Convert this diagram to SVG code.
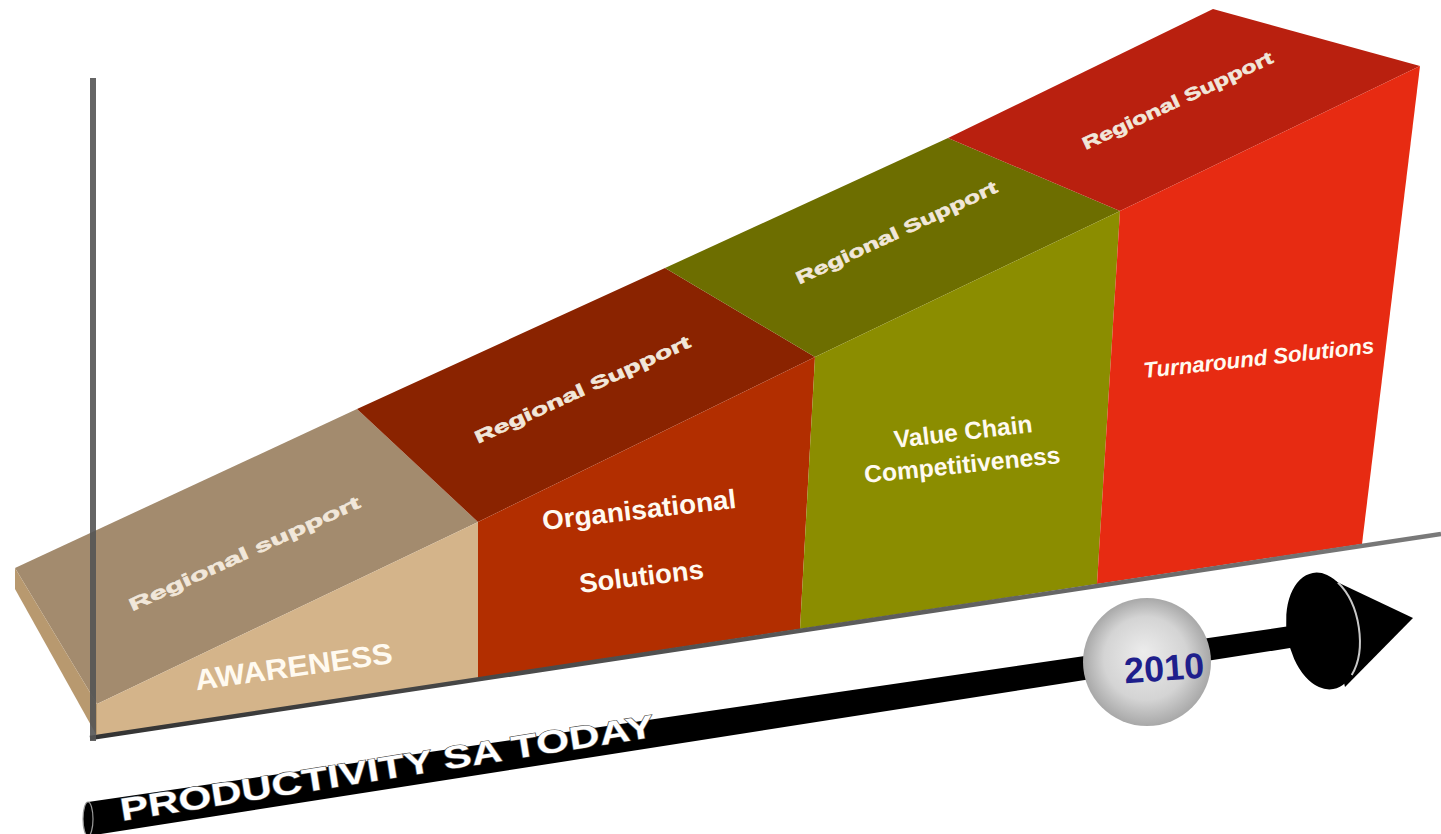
<svg xmlns="http://www.w3.org/2000/svg" width="1441" height="834" viewBox="0 0 1441 834">
  <defs>
    <style>
      text { font-family: "Liberation Sans", Arial, sans-serif; font-weight: bold; }
      .top-label { font-size: 17.5px; fill: #f1e7da; stroke: #f1e7da; stroke-width: 0.6px; }
      .face-label { fill: #fffaf0; }
      .timeline-label { font-size: 32px; fill: #ffffff; stroke: #4a4a4a; stroke-width: 1.2px; paint-order: stroke; }
      .year { font-size: 36px; fill: #1f1f8c; }
    </style>
    <linearGradient id="baseLine" x1="0" y1="0" x2="1" y2="0">
      <stop offset="0" stop-color="#333333"/>
      <stop offset="1" stop-color="#7a7a7a"/>
    </linearGradient>
    <radialGradient id="ballShade" cx="0.5" cy="0.5" r="0.5" fx="0.47" fy="0.42">
      <stop offset="0" stop-color="#ececec"/>
      <stop offset="0.65" stop-color="#d4d4d4"/>
      <stop offset="1" stop-color="#a8a8a8"/>
    </radialGradient>
  </defs>

  <rect width="1441" height="834" fill="#ffffff"/>

  <!-- Step 1: awareness -->
  <g id="block-awareness">
    <polygon points="15,568 357,409 478,522 97,704" fill="#a38b6e"/>
    <polygon points="15,568 97,704 97,736 15,589" fill="#b8996f"/>
    <polygon points="97,704 478,522 478,678 97,736" fill="#d4b48a"/>
    <text class="top-label" transform="translate(247,559) rotate(-24.5)" text-anchor="middle" textLength="252" lengthAdjust="spacingAndGlyphs">Regional support</text>
    <text class="face-label" font-size="29" transform="translate(295,676.5) rotate(-7.9)" text-anchor="middle" textLength="199" lengthAdjust="spacingAndGlyphs">AWARENESS</text>
  </g>

  <!-- Step 2: organisational solutions -->
  <g id="block-organisational">
    <polygon points="357,409 665,268 815,357 478,522" fill="#8a2300"/>
    <polygon points="478,522 815,357 800,629 478,678" fill="#b22e00"/>
    <text class="top-label" transform="translate(585,395) rotate(-24.5)" text-anchor="middle" textLength="235" lengthAdjust="spacingAndGlyphs">Regional Support</text>
    <text class="face-label" font-size="27" transform="translate(640,519) rotate(-6.5)" text-anchor="middle" textLength="195" lengthAdjust="spacingAndGlyphs">Organisational</text>
    <text class="face-label" font-size="27" transform="translate(642.5,585.5) rotate(-6.8)" text-anchor="middle" textLength="125" lengthAdjust="spacingAndGlyphs">Solutions</text>
  </g>

  <!-- Step 3: value chain competitiveness -->
  <g id="block-value-chain">
    <polygon points="665,268 948,138 1120,211 815,357" fill="#6d6e00"/>
    <polygon points="815,357 1120,211 1097,584 800,629" fill="#8b8d00"/>
    <text class="top-label" transform="translate(899,238) rotate(-25)" text-anchor="middle" textLength="220" lengthAdjust="spacingAndGlyphs">Regional Support</text>
    <text class="face-label" font-size="24.5" transform="translate(964,440) rotate(-6.6)" text-anchor="middle" textLength="139" lengthAdjust="spacingAndGlyphs">Value Chain</text>
    <text class="face-label" font-size="24.5" transform="translate(963,473) rotate(-5.8)" text-anchor="middle" textLength="197" lengthAdjust="spacingAndGlyphs">Competitiveness</text>
  </g>

  <!-- Step 4: turnaround solutions -->
  <g id="block-turnaround">
    <polygon points="948,138 1213,9 1420,66 1120,211" fill="#b9200f"/>
    <polygon points="1120,211 1420,66 1362,544 1097,584" fill="#e72b12"/>
    <text class="top-label" transform="translate(1180,106) rotate(-25)" text-anchor="middle" textLength="208" lengthAdjust="spacingAndGlyphs">Regional Support</text>
    <text class="face-label" font-size="22" font-style="italic" transform="translate(1259.5,365.5) rotate(-6.2)" text-anchor="middle" textLength="232" lengthAdjust="spacingAndGlyphs">Turnaround Solutions</text>
  </g>

  <!-- Chart axes -->
  <g id="axes">
    <line x1="90" y1="738" x2="1441" y2="534" stroke="url(#baseLine)" stroke-width="4.5"/>
    <line x1="93" y1="78" x2="93" y2="741" stroke="#555555" stroke-width="6" opacity="0.9"/>
  </g>

  <!-- Timeline arrow with year marker -->
  <g id="timeline">
    <polygon points="88,802 1290,626 1290,648 88,836" fill="#000000"/>
    <ellipse cx="88" cy="819" rx="5" ry="17" fill="#000000" stroke="#9a9a9a" stroke-width="1.2"/>
    <text class="timeline-label" transform="translate(122,821) rotate(-9)" textLength="540" lengthAdjust="spacingAndGlyphs">PRODUCTIVITY SA TODAY</text>
    <path d="M1318,573 L1413,618 L1345,687 Z" fill="#000000"/>
    <ellipse cx="1323" cy="631" rx="36" ry="59" transform="rotate(-10 1323 631)" fill="#000000"/>
    <path d="M1337.9,582.5 A36,59 -10 0,1 1351.7,675" fill="none" stroke="#c8c8c8" stroke-width="2"/>
  </g>

  <g id="marker-2010">
    <circle cx="1147" cy="662" r="64" fill="url(#ballShade)"/>
    <text class="year" transform="translate(1165,680.5) rotate(-4)" text-anchor="middle" textLength="80" lengthAdjust="spacingAndGlyphs">2010</text>
  </g>
</svg>
